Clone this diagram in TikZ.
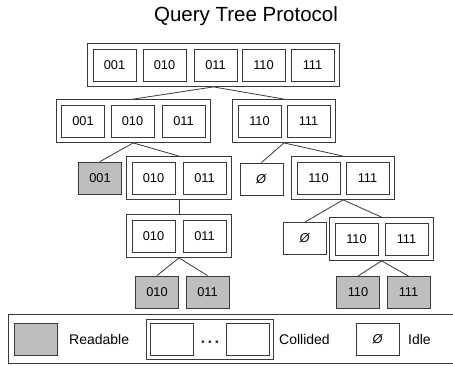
\documentclass[tikz,border=0pt]{standalone}
\usepackage{fontspec}
\setmainfont{Liberation Sans}
\usetikzlibrary{fit}
\definecolor{ln}{HTML}{3A3A3A}
\definecolor{rd}{HTML}{BEBEBE}
\begin{document}
\begin{tikzpicture}[x=1pt,y=-1pt,
  cell/.style={draw=ln, line width=0.9pt, minimum width=43pt, minimum height=32pt, inner sep=0pt, font=\fontsize{12.8}{14}\selectfont},
  readable/.style={cell, fill=rd},
  group/.style={draw=ln, line width=0.9pt, inner sep=5pt},
  lgroup/.style={draw=ln, line width=0.9pt, inner sep=3.5pt},
  conn/.style={draw=ln, line width=0.8pt},
  lbl/.style={anchor=west, inner sep=0pt, font=\fontsize{14}{16}\selectfont}]
\useasboundingbox (0,0) rectangle (453,365);
\fill[white] (0,0) rectangle (453,365);
\node[font=\fontsize{20.5}{23}\selectfont] (title) at (246,16) {Query Tree Protocol};
% row 1
\node[cell] (r1a) at (114.5,65) {001};
\node[cell] (r1b) at (164.5,65) {010};
\node[cell] (r1c) at (215.5,65) {011};
\node[cell] (r1d) at (263.5,65) {110};
\node[cell] (r1e) at (312.5,65) {111};
\node[group, fit=(r1a)(r1e)] (g1) {};
% row 2
\node[cell] (r2a) at (83,121) {001};
\node[cell] (r2b) at (132.5,121) {010};
\node[cell] (r2c) at (183.5,121) {011};
\node[group, fit=(r2a)(r2c)] (g2) {};
\node[cell] (r2d) at (259.5,121) {110};
\node[cell] (r2e) at (308.5,121) {111};
\node[group, fit=(r2d)(r2e)] (g3) {};
% row 3
\node[readable] (r3a) at (100,178) {001};
\node[cell] (r3b) at (153.5,178) {010};
\node[cell] (r3c) at (204.5,178) {011};
\node[group, fit=(r3b)(r3c)] (g4) {};
\node[cell] (r3d) at (261.5,179) {\textit{Ø}};
\node[cell] (r3e) at (318.5,178) {110};
\node[cell] (r3f) at (367.5,178) {111};
\node[group, fit=(r3e)(r3f)] (g5) {};
% row 4
\node[cell] (r4a) at (153.5,236) {010};
\node[cell] (r4b) at (204.5,236) {011};
\node[group, fit=(r4a)(r4b)] (g6) {};
\node[cell] (r4c) at (305,238.5) {\textit{Ø}};
\node[cell] (r4d) at (356.5,239) {110};
\node[cell] (r4e) at (406.5,239) {111};
\node[group, fit=(r4d)(r4e)] (g7) {};
% row 5
\node[readable] (r5a) at (157,292) {010};
\node[readable] (r5b) at (207.5,292) {011};
\node[readable] (r5c) at (358,292.5) {110};
\node[readable] (r5d) at (408.5,292.5) {111};
% connectors
\draw[conn] (g1.south) -- (g2.north);
\draw[conn] (g1.south) -- (g3.north);
\draw[conn] (g2.south) -- (r3a.north);
\draw[conn] (g2.south) -- (g4.north);
\draw[conn] (g3.south) -- (r3d.north);
\draw[conn] (g3.south) -- (g5.north);
\draw[conn] (g4.south) -- (g6.north);
\draw[conn] (g5.south) -- (r4c.north);
\draw[conn] (g5.south) -- (g7.north);
\draw[conn] (g6.south) -- (r5a.north);
\draw[conn] (g6.south) -- (r5b.north);
\draw[conn] (g7.south) -- (r5c.north);
\draw[conn] (g7.south) -- (r5d.north);
% legend
\draw[ln, line width=0.9pt] (8,314) rectangle (460,363);
\node[readable] (lr) at (35.5,339) {};
\node[lbl] (lrt) at (69,339) {Readable};
\node[cell] (lc1) at (171.5,339) {};
\node[cell] (lc2) at (248,339) {};
\node[lgroup, fit=(lc1)(lc2)] (lcg) {};
\node[inner sep=0pt, font=\fontsize{17}{18}\selectfont\bfseries, text=ln] (dots) at (210,342.5) {.\hspace{2.2pt}.\hspace{2.2pt}.};
\node[lbl] (lct) at (279,339) {Collided};
\node[cell] (li) at (378,339) {\textit{Ø}};
\node[lbl] (lit) at (408,339) {Idle};
\end{tikzpicture}
\end{document}
